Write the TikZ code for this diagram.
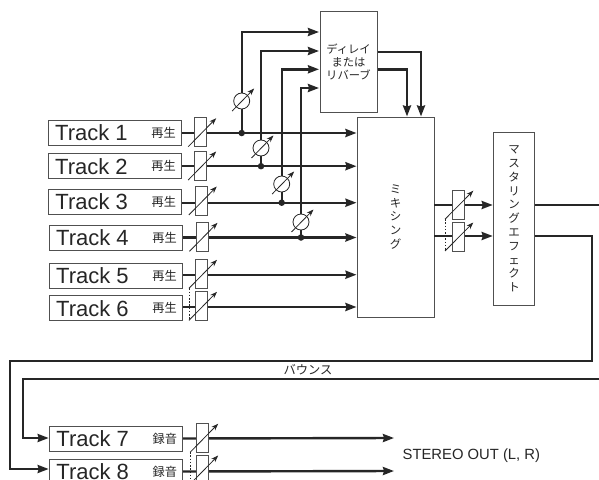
\documentclass[tikz,border=0pt]{standalone}
\usepackage{fontspec}
\setmainfont{Liberation Sans}
\newfontfamily\jpf{Noto Sans CJK JP}
\usetikzlibrary{arrows.meta,calc}
\definecolor{ink}{HTML}{262626}
\definecolor{edge}{HTML}{505050}
\tikzset{
  sig/.style={draw=ink,line width=2.4pt,line cap=butt,line join=miter},
  sigarrow/.style={sig,-{Stealth[length=11pt,width=8pt,inset=1pt]}},
  boxn/.style={draw=edge,line width=1pt,fill=white,inner sep=0pt},
  trackbox/.style={boxn,minimum width=133.5pt,minimum height=25pt},
  fader/.style={boxn,minimum width=12pt,minimum height=29pt},
  meter/.style={draw=ink,line width=0.8pt,fill=white,circle,inner sep=0pt,minimum size=16pt},
  knob/.style={draw=ink,line width=0.8pt,-{Stealth[length=7pt,width=5pt]}},
  gang/.style={draw=ink,line width=0.7pt,dash pattern=on 1.6pt off 1.6pt},
  dot/.style={circle,fill=ink,inner sep=0pt,minimum size=6.5pt},
  tracklabel/.style={text=ink,font=\fontsize{22}{22}\selectfont,inner sep=0pt,anchor=west},
  modelabel/.style={text=ink,font=\jpf\fontsize{12.2}{12}\selectfont,inner sep=0pt},
  jplabel/.style={text=ink,font=\jpf\fontsize{11.5}{13.8}\selectfont,inner sep=0pt,align=center},
}
\begin{document}
\begin{tikzpicture}[x=1pt,y=-1pt]
\path[use as bounding box,clip] (0,0) rectangle (599,479);
\fill[white] (0,0) rectangle (599,479);
% main blocks
\node[boxn,minimum width=77pt,minimum height=200pt] (mix) at (395.5,217) {};
\node[boxn,minimum width=57pt,minimum height=100.5pt] (fx) at (348.5,62) {};
\node[boxn,minimum width=41.5pt,minimum height=173pt] (master) at (514,219.2) {};
\node[jplabel,font=\jpf\fontsize{11.3}{13}\selectfont] (fxtxt) at (348.5,62) {ディレイ\\または\\リバーブ};
\node[jplabel] (mixtxt) at (395.7,217) {ミ\\キ\\シ\\ン\\グ};
\node[jplabel] (mastxt) at (514,219) {マ\\ス\\タ\\リ\\ン\\グ\\エ\\フ\\ェ\\ク\\ト};
% tracks
\foreach \n/\bx/\by/\fxx/\fy/\word in {
 1/47.5/133/200.7/132.2/再生, 2/47.5/166.2/200.7/165.5/再生,
 3/47.7/201.5/201.3/200.5/再生, 4/48.5/237.5/202/236.8/再生,
 5/48.5/275.5/201.5/273.8/再生, 6/48.5/308.2/201.5/305.8/再生,
 7/48.7/438.5/202.7/437.7/録音, 8/48.7/471.5/202.7/469.5/録音}{
  \node[trackbox,anchor=west] (t\n) at (\bx,\by) {};
  \node[tracklabel] (tl\n) at ([xshift=7.5pt]t\n.west) {Track \n};
  \node[modelabel,anchor=east] (tm\n) at ([xshift=-6pt]t\n.east) {\word};
  \node[inner sep=0pt] (f\n) at (\fxx,\fy) {};
}
% signal lines to the mixer
\draw[sigarrow] (t1.east) -- (t1.east -| mix.west);
\draw[sigarrow] (t2.east) -- (t2.east -| mix.west);
\draw[sigarrow] ($(t3.east)+(0,1.2)$) -- ($(t3.east -| mix.west)+(0,1.2)$);
\draw[sigarrow] (t4.east) -- (t4.east -| mix.west);
\draw[sigarrow] ($(t5.east)+(0,-0.8)$) -- ($(t5.east -| mix.west)+(0,-0.8)$);
\draw[sigarrow] ($(t6.east)+(0,-1.2)$) -- ($(t6.east -| mix.west)+(0,-1.2)$);
\coordinate (out7) at (394,438);
\coordinate (out8) at (394,471);
\draw[sigarrow] (t7.east) -- (out7);
\draw[sigarrow] (t8.east) -- (out8);
% send lines
\coordinate (s1) at (241.7,133);
\coordinate (s2) at (261,166.2);
\coordinate (s3) at (281.7,202.7);
\coordinate (s4) at (301,237.5);
\draw[sigarrow] (s1) |- (319,32);
\draw[sigarrow] (s2) |- (319,51);
\draw[sigarrow] (s3) |- (319,69.3);
\draw[sigarrow] (s4) |- (319,88);
\foreach \i in {1,2,3,4} \node[dot] (d\i) at (s\i) {};
\node[meter] (m1) at (241.7,101) {};
\node[meter] (m2) at (261,148) {};
\node[meter] (m3) at (281.7,184) {};
\node[meter] (m4) at (301,222) {};
\foreach \i in {1,2,3,4} \draw[knob] ($(m\i)+(-9.5,10)$) -- ($(m\i)+(12.5,-12.5)$);
% returns
\coordinate (r1) at (421,51.7);
\coordinate (r2) at (407,69.3);
\draw[sigarrow] (r1 -| fx.east) -- (r1) -- (r1 |- mix.north);
\draw[sigarrow] (r2 -| fx.east) -- (r2) -- (r2 |- mix.north);
% track faders
\foreach \n in {1,...,8}{
  \node[fader] (fd\n) at (f\n) {};
  \draw[knob] ($(f\n)+(-12.5,14.5)$) -- ($(f\n)+(15.5,-14)$);
}
\draw[gang] ($(f5)+(-12.5,14.5)$) -- ($(f6)+(-12.5,14.5)$);
\draw[gang] ($(f7)+(-12.5,14.5)$) -- ($(f8)+(-12.5,14.5)$);
% master section
\coordinate (l1) at (434,205);
\coordinate (l2) at (434,236);
\draw[sigarrow] (l1) -- (l1 -| master.west);
\draw[sigarrow] (l2) -- (l2 -| master.west);
\node[fader] (ml) at (458.3,205.2) {};
\node[fader] (mr) at (458.3,237) {};
\draw[knob] ($(ml)+(-13.3,14)$) -- ($(ml)+(15,-14.5)$);
\draw[knob] ($(mr)+(-13.3,14)$) -- ($(mr)+(15,-14.5)$);
\draw[gang] ($(ml)+(-13.3,14)$) -- ($(mr)+(-13.3,14)$);
% bounce lines
\coordinate (edgeA) at (605,205);
\coordinate (edgeB) at (605,379);
\draw[sig] (l1 -| master.east) -- (edgeA);
\draw[sigarrow] (l2 -| master.east) -- (592,236) -- (592,360.7) -- (9.7,360.7) -- (9.7,469) -- (t8.west |- 0,469);
\draw[sigarrow] (edgeB) -- (22.7,379) -- (22.7,438) -- (t7.west |- 0,438);
% labels
\node[jplabel,font=\jpf\fontsize{12.3}{12}\selectfont] (bounce) at (308,370) {バウンス};
\node[text=ink,font=\fontsize{14.8}{16}\selectfont,inner sep=0pt,anchor=west] (stereo) at (402.5,456) {STEREO OUT (L, R)};
\end{tikzpicture}
\end{document}
